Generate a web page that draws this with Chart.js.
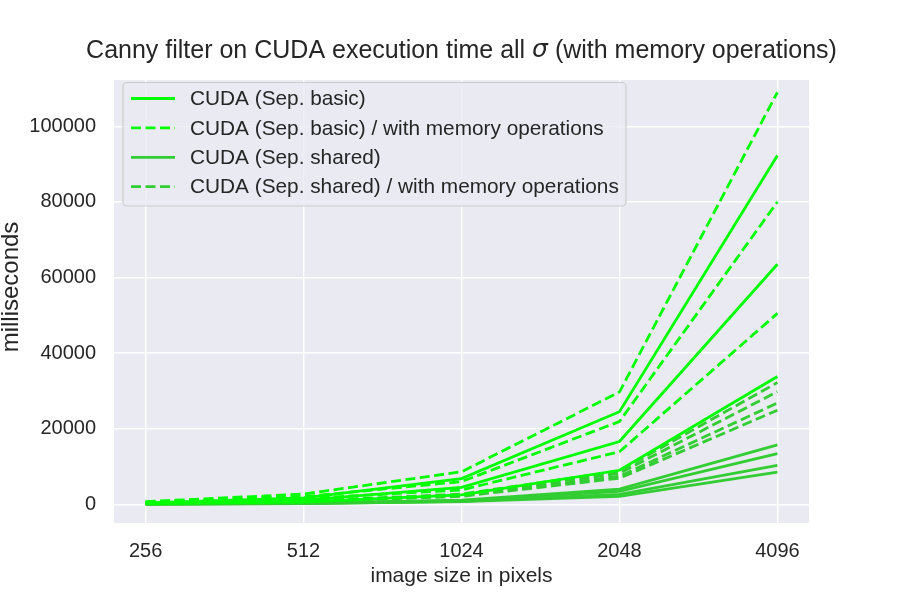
<!DOCTYPE html>
<html>
<head>
<meta charset="utf-8">
<script src="https://cdn.jsdelivr.net/npm/chart.js@4.4.1/dist/chart.umd.min.js"></script>
<style>
  html, body { margin: 0; padding: 0; background: #ffffff; }
  #wrap { width: 900px; height: 600px; position: relative; }
</style>
</head>
<body>
<div id="wrap"><canvas id="c" width="900" height="600"></canvas></div>
<script>
// ---- data ----
const sizes = ['256', '512', '1024', '2048', '4096'];
const yTicks = [0, 20000, 40000, 60000, 80000, 100000];

const basicSolid = [
  [400, 1700, 6800, 24500, 92300],
  [250, 1100, 4500, 16600, 63500],
  [150, 600, 2500, 9000, 33800]
];
const basicMem = [
  [700, 2700, 8600, 29700, 109000],
  [550, 2000, 6000, 21900, 80000],
  [450, 1500, 3800, 13900, 50500]
];
const sharedSolid = [
  [80, 300, 1100, 4000, 15700],
  [70, 250, 950, 3400, 13400],
  [60, 200, 800, 2600, 10300],
  [50, 180, 700, 2100, 8500]
];
const sharedMem = [
  [300, 800, 2700, 8800, 32200],
  [280, 750, 2500, 8200, 29800],
  [260, 700, 2300, 7400, 26800],
  [250, 650, 2100, 6900, 24900]
];

const titleParts = ['Canny filter on CUDA execution time all ', 'σ', ' (with memory operations)'];
const xTitle = 'image size in pixels';
const yTitle = 'milliseconds';

const FONT = '"Liberation Sans", Arial, sans-serif';
const TXT = '#262626';
const BASIC = '#00ff00';
const SHARED = '#32cd32';
const DASH = [10, 4.5];

const groups = [
  { label: 'CUDA (Sep. basic)', rows: basicSolid, color: BASIC, dash: [] },
  { label: 'CUDA (Sep. basic) / with memory operations', rows: basicMem, color: BASIC, dash: DASH },
  { label: 'CUDA (Sep. shared)', rows: sharedSolid, color: SHARED, dash: [] },
  { label: 'CUDA (Sep. shared) / with memory operations', rows: sharedMem, color: SHARED, dash: DASH }
];

const datasets = [];
groups.forEach(g => {
  g.rows.forEach((row, i) => {
    datasets.push({
      label: g.label,
      legendShow: i === 0,
      data: row.map((v, k) => ({ x: k, y: v })),
      borderColor: g.color,
      backgroundColor: g.color,
      borderDash: g.dash,
      borderWidth: 2.8,
      pointRadius: 0,
      fill: false,
      tension: 0
    });
  });
});

const decor = {
  id: 'decor',
  beforeDraw(chart) {
    const { ctx, chartArea: a } = chart;
    ctx.save();
    ctx.fillStyle = '#eaeaf2';
    ctx.fillRect(a.left, a.top, a.right - a.left, a.bottom - a.top);
    ctx.restore();
  },
  afterDraw(chart) {
    const { ctx, chartArea: a } = chart;
    ctx.save();
    // title with italic sigma
    ctx.fillStyle = TXT;
    ctx.textBaseline = 'middle';
    ctx.textAlign = 'left';
    const fonts = ['25px ' + FONT, 'italic 25px "DejaVu Sans", sans-serif', '25px ' + FONT];
    const widths = titleParts.map((t, i) => { ctx.font = fonts[i]; return ctx.measureText(t).width; });
    let tx = (a.left + a.right) / 2 - widths.reduce((p, c) => p + c, 0) / 2;
    titleParts.forEach((t, i) => {
      ctx.font = fonts[i];
      ctx.fillText(t, tx, i === 1 ? 50 : 51);
      tx += widths[i];
    });
    // axis titles
    ctx.textAlign = 'center';
    ctx.font = '21px ' + FONT;
    ctx.fillText(xTitle, (a.left + a.right) / 2, 576);
    ctx.save();
    ctx.translate(11, 287);
    ctx.rotate(-Math.PI / 2);
    ctx.font = '24px ' + FONT;
    ctx.fillText(yTitle, 0, 0);
    ctx.restore();

    // legend
    const lx = 123, ly = 82.5, lw = 503, lh = 123.5;
    ctx.globalAlpha = 0.8;
    ctx.fillStyle = '#eaeaf2';
    ctx.beginPath();
    ctx.roundRect(lx, ly, lw, lh, 4);
    ctx.fill();
    ctx.globalAlpha = 1;
    ctx.strokeStyle = '#cccccc';
    ctx.lineWidth = 1.2;
    ctx.stroke();
    const items = chart.data.datasets.filter(d => d.legendShow);
    ctx.font = '20.8px ' + FONT;
    ctx.textAlign = 'left';
    items.forEach((d, i) => {
      const y = 98.5 + i * 29.4;
      ctx.strokeStyle = d.borderColor;
      ctx.lineWidth = d.borderWidth;
      ctx.setLineDash(d.borderDash);
      ctx.beginPath();
      ctx.moveTo(131, y);
      ctx.lineTo(175, y);
      ctx.stroke();
      ctx.setLineDash([]);
      ctx.fillStyle = TXT;
      ctx.fillText(d.label, 190, y + 1);
    });
    ctx.restore();
  }
};

new Chart(document.getElementById('c'), {
  type: 'line',
  data: { datasets },
  plugins: [decor],
  options: {
    responsive: false,
    animation: false,
    layout: { padding: { left: 0, right: 91, top: 80, bottom: 0 } },
    plugins: { legend: { display: false }, tooltip: { enabled: false }, title: { display: false } },
    scales: {
      x: {
        type: 'linear',
        min: -0.2, max: 4.2,
        afterBuildTicks(s) { s.ticks = sizes.map((_, i) => ({ value: i })); },
        afterFit(s) { s.height = 77; },
        grid: { color: '#ffffff', lineWidth: 1.4, drawTicks: false },
        border: { display: false },
        ticks: {
          callback: v => sizes[v],
          color: TXT, font: { family: FONT, size: 20 }, padding: 16,
          maxRotation: 0, autoSkip: false
        }
      },
      y: {
        min: -4950, max: 112250,
        afterBuildTicks(s) { s.ticks = yTicks.map(v => ({ value: v })); },
        afterFit(s) { s.width = 114; },
        grid: { color: '#ffffff', lineWidth: 1.4, drawTicks: false },
        border: { display: false },
        ticks: {
          callback: v => String(v),
          color: TXT, font: { family: FONT, size: 20 }, padding: 18
        }
      }
    }
  }
});
</script>
</body>
</html>
